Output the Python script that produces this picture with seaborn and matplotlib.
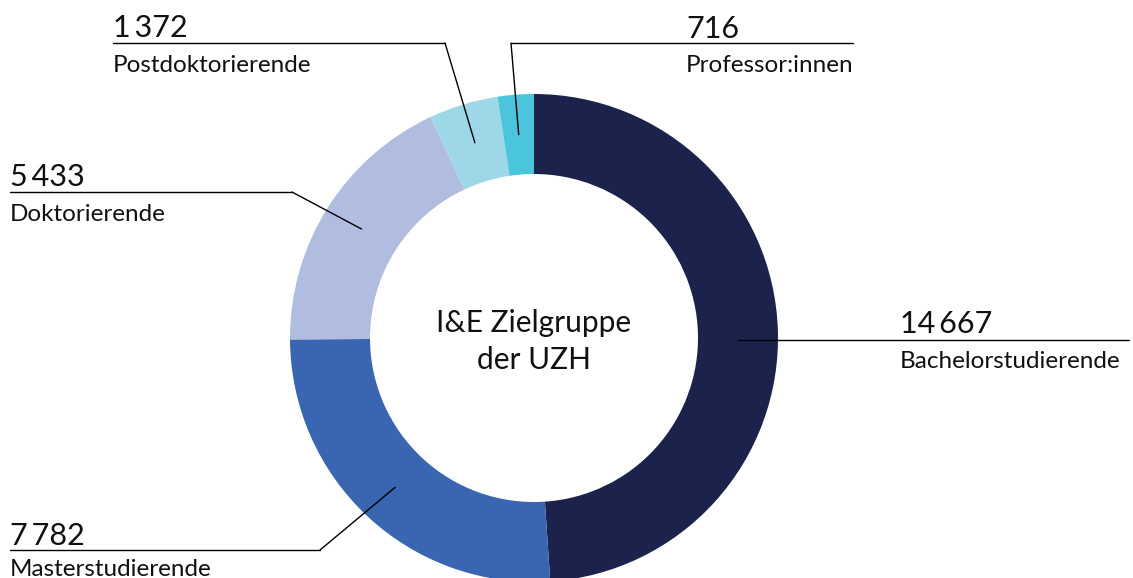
import numpy as np
import seaborn as sns
import matplotlib.pyplot as plt

# Daten: I&E Zielgruppe der UZH
kategorien = ["Bachelorstudierende", "Masterstudierende", "Doktorierende",
              "Postdoktorierende", "Professor:innen"]
werte = [14667, 7782, 5433, 1372, 716]
wert_texte = ["14\u2009667", "7\u2009782", "5\u2009433", "1\u2009372", "716"]
farben = ["#1b234d", "#3a65b0", "#b0bde0", "#9ed8e8", "#4bc5dc"]

sns.set_theme(style="white")
plt.rcParams['font.family'] = ['Lato', 'DejaVu Sans']

W, H = 1133, 578
fig = plt.figure(figsize=(W / 100, H / 100), dpi=100)
ax = fig.add_axes([0, 0, 1, 1])

# Donut (Pixelkoordinaten, y nach unten)
cx, cy, R, ring = 534, 338, 244, 80
wedges, _ = ax.pie(werte, colors=sns.color_palette(farben), startangle=-90,
                   counterclock=True, radius=R, center=(cx, cy),
                   wedgeprops=dict(width=ring, linewidth=0))
ax.set_xlim(0, W)
ax.set_ylim(H, 0)
ax.axis("off")

ax.text(cx, 323, "I&E Zielgruppe", ha="center", va="center", fontsize=21.5, color="#111111")
ax.text(cx, 360, "der UZH", ha="center", va="center", fontsize=21.5, color="#111111")

# Beschriftungen: Knick (x, y), Linie (y, x0, x1), Textposition x, Zahl- und Text-Grundlinie
layout = {
    "Bachelorstudierende": dict(knick=None, linie=(340, 738, 1129), tx=900, yb=(333, 368)),
    "Masterstudierende": dict(knick=(320, 550), linie=(550, 10, 320), tx=10, yb=(545, 576)),
    "Doktorierende": dict(knick=(292, 192), linie=(192, 10, 292), tx=10, yb=(186, 221)),
    "Postdoktorierende": dict(knick=(445, 43), linie=(43, 113, 445), tx=113, yb=(37, 72)),
    "Professor:innen": dict(knick=(511, 43), linie=(43, 511, 853), tx=686, yb=(38, 72)),
}

r_mid = R - ring / 2
for w, name, wt in zip(wedges, kategorien, wert_texte):
    ang = np.deg2rad((w.theta1 + w.theta2) / 2)
    ax_x = cx + r_mid * np.cos(ang)
    ax_y = cy + r_mid * np.sin(ang)
    L = layout[name]
    y, x0, x1 = L["linie"]
    if L["knick"] is not None:
        ax.plot([ax_x, L["knick"][0]], [ax_y, L["knick"][1]], color="black", lw=1)
    ax.plot([x0, x1], [y, y], color="black", lw=1)
    ax.text(L["tx"], L["yb"][0], wt, ha="left", va="baseline", fontsize=22, color="#111111")
    ax.text(L["tx"], L["yb"][1], name, ha="left", va="baseline", fontsize=17.5, color="#111111")

fig.savefig("out.png", dpi=100)
